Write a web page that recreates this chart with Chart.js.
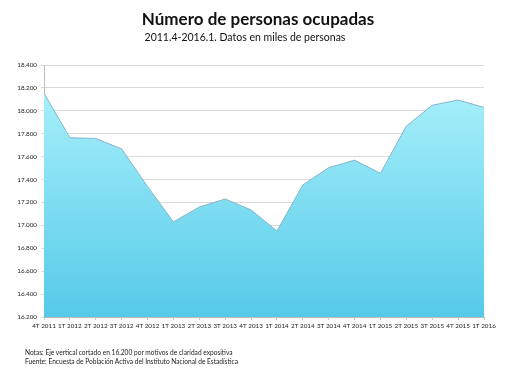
<!DOCTYPE html>
<html>
<head>
<meta charset="utf-8">
<script src="https://cdn.jsdelivr.net/npm/chart.js@4/dist/chart.umd.min.js"></script>
<style>
  html, body { margin: 0; padding: 0; background: #fff; }
  #wrap { position: relative; width: 508px; height: 371px; font-family: Lato, "Open Sans", sans-serif; color: #111; }
  #chart { position: absolute; left: 0; top: 0; }
  .t { position: absolute; white-space: nowrap; }
  #title { left: 0; width: 516px; text-align: center; top: 8px; font-size: 17px; font-weight: bold; }
  #subtitle { left: 0; width: 490px; text-align: center; top: 31px; font-size: 10.5px; }
  .note { left: 25px; font-size: 6.6px; color: #222; }
</style>
</head>
<body>
<div id="wrap">
  <canvas id="chart" width="508" height="371"></canvas>
  <div class="t" id="title">Número de personas ocupadas</div>
  <div class="t" id="subtitle">2011.4-2016.1. Datos en miles de personas</div>
  <div class="t note" style="top:348px">Notas: Eje vertical cortado en 16.200 por motivos de claridad expositiva</div>
  <div class="t note" style="top:357px">Fuente: Encuesta de Población Activa del Instituto Nacional de Estadística</div>
</div>
<script>
// Quarters on the x axis
const quarters = ['4T 2011', '1T 2012', '2T 2012', '3T 2012', '4T 2012', '1T 2013', '2T 2013', '3T 2013',
  '4T 2013', '1T 2014', '2T 2014', '3T 2014', '4T 2014', '1T 2015', '2T 2015', '3T 2015', '4T 2015', '1T 2016'];

// Employed people, thousands
const ocupados = [18153.0, 17765.1, 17758.5, 17667.7, 17339.4, 17030.2, 17160.6, 17230.0,
  17135.2, 16950.6, 17353.0, 17504.0, 17569.1, 17454.8, 17866.5, 18048.7, 18094.2, 18029.6];

const yMin = 16200;
const yMax = 18400;
const yStep = 200;

// number like 18.400
function fmt(v) {
  return String(v).replace(/\B(?=(\d{3})+(?!\d))/g, '.');
}

function areaGradient(context) {
  const chart = context.chart;
  const area = chart.chartArea;
  if (!area) return '#8fe3f5';
  const g = chart.ctx.createLinearGradient(0, area.top, 0, area.bottom);
  g.addColorStop(0, '#b0f4fd');
  g.addColorStop(1, '#55cae8');
  return g;
}

const ctx = document.getElementById('chart').getContext('2d');
const chart = new Chart(ctx, {
  type: 'line',
  data: {
    labels: quarters,
    datasets: [{
      data: ocupados,
      fill: 'start',
      backgroundColor: areaGradient,
      borderColor: '#86b4c8',
      borderWidth: 1,
      pointRadius: 0,
      tension: 0
    }]
  },
  options: {
    responsive: false,
    animation: false,
    layout: { padding: { top: 65, right: 24, bottom: 38, left: 0 } },
    plugins: { legend: { display: false }, tooltip: { enabled: false } },
    scales: {
      x: {
        offset: false,
        afterFit: function(scale) { scale.height = 16; },
        grid: { drawOnChartArea: false, drawTicks: true, tickLength: 3, color: '#c8c8c8' },
        border: { color: '#bdbdbd' },
        ticks: {
          maxRotation: 0, autoSkip: false, padding: 2,
          color: '#222', font: { family: 'Lato', size: 6.3 }
        }
      },
      y: {
        min: yMin,
        max: yMax,
        afterFit: function(scale) { scale.width = 44; },
        grid: { color: '#d9d9d9', tickLength: 3 },
        border: { color: '#bdbdbd' },
        ticks: {
          stepSize: yStep, padding: 4,
          color: '#222', font: { family: 'Lato', size: 6.3 },
          callback: function(v) { return fmt(v); }
        }
      }
    }
  }
});
</script>
</body>
</html>
